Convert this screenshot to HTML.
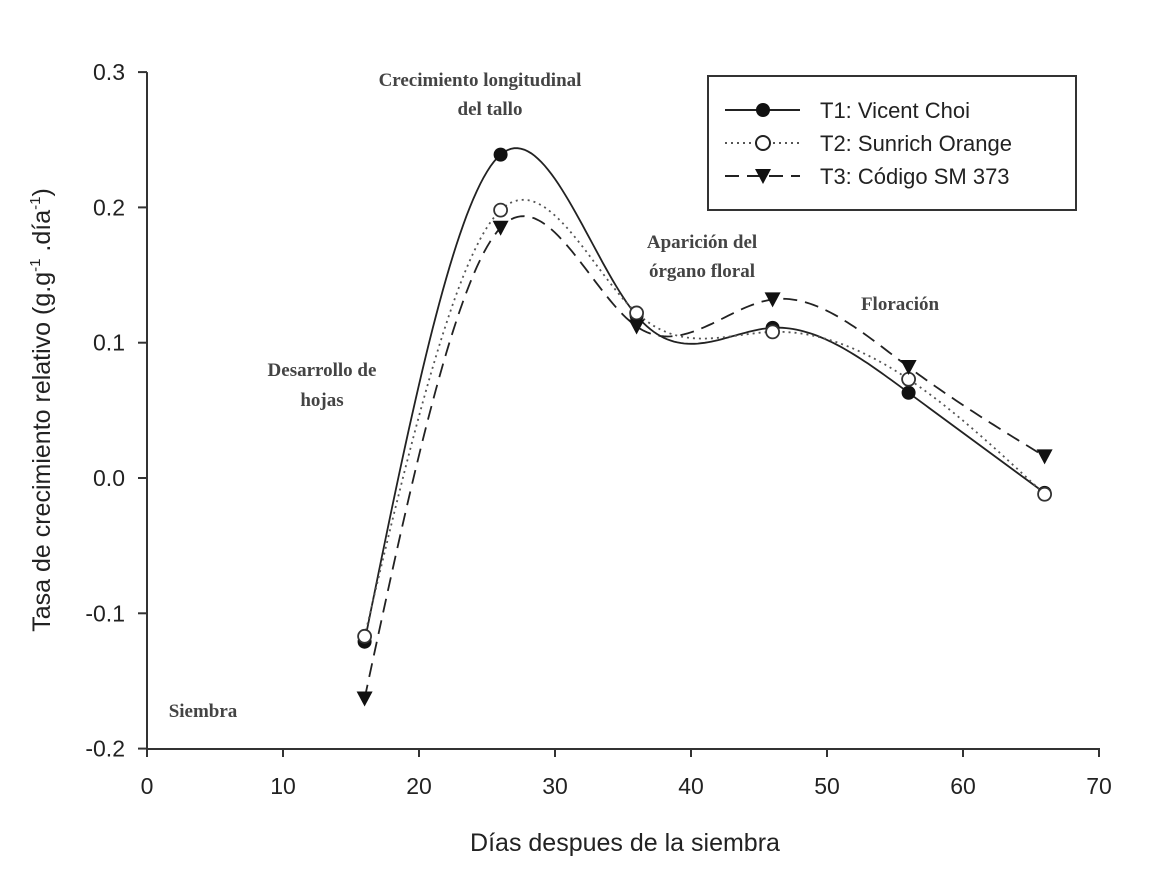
<!DOCTYPE html>
<html><head><meta charset="utf-8"><style>
html,body{margin:0;padding:0;background:#fff;}
svg{display:block;}
.tick{font-family:"Liberation Sans",sans-serif;font-size:23px;fill:#222;}
.ann{font-family:"Liberation Serif",serif;font-size:19px;font-weight:bold;fill:#444;}
.title{font-family:"Liberation Sans",sans-serif;font-size:25px;fill:#222;}
.leg{font-family:"Liberation Sans",sans-serif;font-size:22px;fill:#222;}
</style></head><body>
<svg id="chart" width="1153" height="869">
<g id="axes"></g>
<g id="series"></g>
<g>
<text class="ann" x="480" y="86" text-anchor="middle">Crecimiento longitudinal</text>
<text class="ann" x="490" y="115" text-anchor="middle">del tallo</text>
<text class="ann" x="702" y="248" text-anchor="middle">Aparición del</text>
<text class="ann" x="702" y="277" text-anchor="middle">órgano floral</text>
<text class="ann" x="900" y="310" text-anchor="middle">Floración</text>
<text class="ann" x="322" y="376" text-anchor="middle">Desarrollo de</text>
<text class="ann" x="322" y="406" text-anchor="middle">hojas</text>
<text class="ann" x="203" y="717" text-anchor="middle">Siembra</text>
</g>
<text class="title" x="625" y="851" text-anchor="middle">Días despues de la siembra</text>
<text class="title" transform="translate(50,410) rotate(-90)" text-anchor="middle">Tasa de crecimiento relativo (g.g<tspan dy="-10" font-size="15">-1</tspan><tspan dy="10"> .día</tspan><tspan dy="-10" font-size="15">-1</tspan><tspan dy="10">)</tspan></text>
<g>
<rect x="708" y="76" width="368" height="134" fill="#fff" stroke="#333" stroke-width="2"/>
<g>
<line x1="725" y1="110" x2="800" y2="110" stroke="#222" stroke-width="2"/>
<circle cx="763" cy="110" r="7" fill="#111"/>
<text class="leg" x="820" y="118">T1: Vicent Choi</text></g>
<g>
<line x1="725" y1="143" x2="800" y2="143" stroke="#555" stroke-width="2" stroke-dasharray="2,4"/>
<circle cx="763" cy="143" r="7" fill="#fff" stroke="#222" stroke-width="2"/>
<text class="leg" x="820" y="151">T2: Sunrich Orange</text></g>
<g>
<line x1="725" y1="176" x2="800" y2="176" stroke="#222" stroke-width="2" stroke-dasharray="14,8"/>
<path d="M755,169 L771,169 L763,184 Z" fill="#111"/>
<text class="leg" x="820" y="184">T3: Código SM 373</text></g>
</g>
</svg>
<script>
const days=[16,26,36,46,56,66];
const t1=[-0.121,0.239,0.120,0.111,0.063,-0.011];
const t2=[-0.117,0.198,0.122,0.108,0.073,-0.012];
const t3=[-0.163,0.185,0.112,0.132,0.082,0.016];
const xTicks=[0,10,20,30,40,50,60,70];
const yTicks=[-0.2,-0.1,0.0,0.1,0.2,0.3];
const yLabels=["-0.2","-0.1","0.0","0.1","0.2","0.3"];
const NS="http://www.w3.org/2000/svg";
const X=v=>147+v*13.6;
const Y=v=>478-v*1353;
function mk(tag,attrs,parent){const e=document.createElementNS(NS,tag);for(const k in attrs)e.setAttribute(k,attrs[k]);parent.appendChild(e);return e;}
const axes=document.getElementById('axes');
let a=mk('line',{x1:147,y1:Y(0.3),x2:147,y2:749,stroke:'#333','stroke-width':2},axes);


a=mk('line',{x1:147,y1:749,x2:1100,y2:749,stroke:'#333','stroke-width':2},axes);


xTicks.forEach(t=>{mk('line',{x1:X(t),y1:749,x2:X(t),y2:757,stroke:'#333','stroke-width':2},axes);
const tx=mk('text',{x:X(t),y:794,'text-anchor':'middle',class:'tick'},axes);tx.textContent=t;

});
yTicks.forEach((t,i)=>{mk('line',{x1:138,y1:Y(t),x2:147,y2:Y(t),stroke:'#333','stroke-width':2},axes);
const tx=mk('text',{x:125,y:Y(t)+8,'text-anchor':'end',class:'tick'},axes);tx.textContent=yLabels[i];

});
function spline(xs,ys){const n=xs.length,h=[],al=[],l=[1],mu=[0],z=[0],c=new Array(n).fill(0),b=[],d=[];
for(let i=0;i<n-1;i++)h.push(xs[i+1]-xs[i]);
for(let i=1;i<n-1;i++)al[i]=3/h[i]*(ys[i+1]-ys[i])-3/h[i-1]*(ys[i]-ys[i-1]);
for(let i=1;i<n-1;i++){l[i]=2*(xs[i+1]-xs[i-1])-h[i-1]*mu[i-1];mu[i]=h[i]/l[i];z[i]=(al[i]-h[i-1]*z[i-1])/l[i];}
for(let j=n-2;j>=0;j--){c[j]=(j>0?z[j]-mu[j]*c[j+1]:0);}
c[0]=0;for(let j=0;j<n-1;j++){b[j]=(ys[j+1]-ys[j])/h[j]-h[j]*(c[j+1]+2*c[j])/3;d[j]=(c[j+1]-c[j])/(3*h[j]);}
let pts=[];for(let j=0;j<n-1;j++)for(let s=0;s<=40;s++){const dx=h[j]*s/40;pts.push([X(xs[j]+dx),Y(ys[j]+b[j]*dx+c[j]*dx*dx+d[j]*dx*dx*dx)]);}
return 'M'+pts.map(p=>p[0].toFixed(1)+','+p[1].toFixed(1)).join(' L');}
const sg=document.getElementById('series');
const defs=[[t1,'none','#222','t1'],[t2,'2,4','#555','t2'],[t3,'14,8','#222','t3']];
defs.forEach(([vals,dash,col,nm])=>{const p=mk('path',{d:spline(days,vals),fill:'none',stroke:col,'stroke-width':1.8,'stroke-dasharray':dash},sg);

});
days.forEach((d,i)=>{let m=mk('circle',{cx:X(d),cy:Y(t1[i]),r:7,fill:'#111'},sg);


m=mk('circle',{cx:X(d),cy:Y(t2[i]),r:6.5,fill:'#fff',stroke:'#333','stroke-width':1.8},sg);


const cx=X(d),cy=Y(t3[i]);
m=mk('path',{d:`M${cx-8},${cy-7} L${cx+8},${cy-7} L${cx},${cy+8} Z`,fill:'#111'},sg);

});
</script>
</body></html>
